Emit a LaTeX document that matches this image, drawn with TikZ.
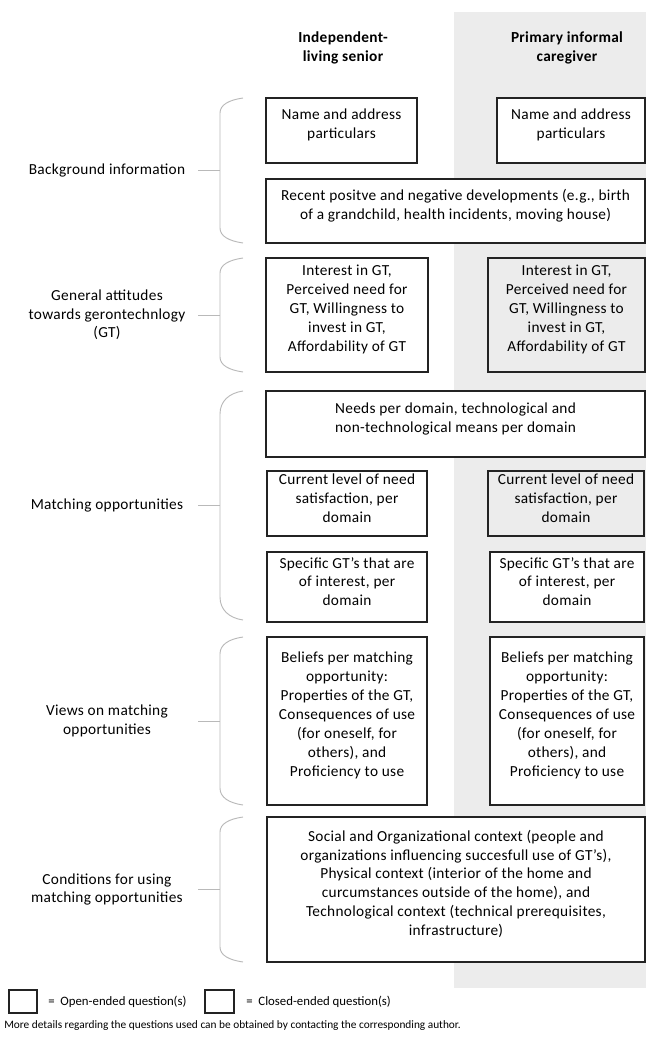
\documentclass[tikz,border=0pt]{standalone}
\usepackage{fontspec}
\setmainfont{Carlito}
\newfontfamily\boxfont{Carlito}[LetterSpace=2]
\usetikzlibrary{fit}
\definecolor{bgc}{RGB}{236,236,236}
\definecolor{brc}{RGB}{185,185,185}
\definecolor{bxc}{RGB}{35,35,35}
\tikzset{
  x=0.75pt, y=-0.75pt,
  box/.style={draw=bxc, line width=0.85pt, fill=white, inner sep=0pt, align=center,
    font=\boxfont\fontsize{11.5}{14.2}\selectfont},
  cbox/.style={box, fill=bgc},
  lbl/.style={align=center, font=\boxfont\fontsize{11.5}{14}\selectfont, inner sep=0pt},
  hdr/.style={align=center, font=\boxfont\fontsize{11.5}{14.2}\selectfont\bfseries, inner sep=0pt},
  bracestyle/.style={draw=brc, line width=0.7pt},
  legbox/.style={draw=bxc, line width=0.85pt, inner sep=0pt},
  legtxt/.style={font=\fontsize{9.6}{11}\selectfont, inner sep=0pt, anchor=west},
  small/.style={font=\fontsize{8.5}{10}\selectfont, inner sep=0pt, anchor=west}
}
\newcommand{\mybrace}[3]{% name, top, bottom
  \pgfmathsetmacro{\cc}{max(15,0.1*(#3-#2))}
  \pgfmathsetmacro{\mm}{(#2+#3)/2}
  \draw[bracestyle] (243,#2) .. controls (229,#2+2) and (220,#2+0.45*\cc) .. (220,#2+\cc)
     -- (220,#3-\cc) .. controls (220,#3-0.45*\cc) and (229,#3-2) .. (243,#3);
  \coordinate (#1m) at (220,\mm);
  \coordinate (#1t) at (198,\mm);
  \draw[bracestyle] (#1t) -- (#1m);
}
\begin{document}
\begin{tikzpicture}
\useasboundingbox (0,0) rectangle (646,1037);
\fill[bgc] (454,12) rectangle (646,988);

\node[hdr] (h1) at (343,47.5) {Independent-\\living senior};
\node[hdr] (h2) at (567,47.5) {Primary informal\\caregiver};

% Row 1
\node[box, fit={(266,98)(417,163)}] (n1) {Name and address\\particulars};
\node[box, fit={(497,98)(645,163)}] (n2) {Name and address\\particulars};
\node[box, fit={(266,179)(645,243)}] (rc) {Recent positve and negative developments (e.g., birth\\of a grandchild, health incidents, moving house)};
% Row 2
\node[box, fit={(266,258)(428,372)}] (i1) {Interest in GT,\\Perceived need for\\GT, Willingness to\\invest in GT,\\Affordability of GT};
\node[cbox, fit={(488,258)(645,372)}] (i2) {Interest in GT,\\Perceived need for\\GT, Willingness to\\invest in GT,\\Affordability of GT};
% Row 3
\node[box, fit={(266,391)(645,457)}] (nd) {Needs per domain, technological and\\non-technological means per domain};
\node[box, fit={(267,471)(427,536)}] (c1) {Current level of need\\satisfaction, per\\domain};
\node[cbox, fit={(488,471)(644,536)}] (c2) {Current level of need\\satisfaction, per\\domain};
\node[box, fit={(267,552)(427,622)}] (s1) {Specific GT’s that are\\of interest, per\\domain};
\node[box, fit={(490,552)(644,622)}] (s2) {Specific GT’s that are\\of interest, per\\domain};
% Row 4
\node[box, fit={(267,637)(427,805)}] (b1) {Beliefs per matching\\opportunity:\\Properties of the GT,\\Consequences of use\\(for oneself, for\\others), and\\Proficiency to use};
\node[box, fit={(490,637)(644,805)}] (b2) {Beliefs per matching\\opportunity:\\Properties of the GT,\\Consequences of use\\(for oneself, for\\others), and\\Proficiency to use};
% Row 5
\node[box, fit={(267,817)(645,962)}] (cd) {Social and Organizational context (people and\\organizations influencing succesfull use of GT’s),\\Physical context (interior of the home and\\curcumstances outside of the home), and\\Technological context (technical prerequisites,\\infrastructure)};

% Braces and labels
\mybrace{ba}{98}{243}
\mybrace{bb}{258}{372}
\mybrace{bc}{391}{620}
\mybrace{bd}{637}{805}
\mybrace{be}{817}{962}

\node[lbl] (l1) at (107,170.5) {Background information};
\node[lbl] (l2) at (107,315) {General attitudes\\towards gerontechnlogy\\(GT)};
\node[lbl] (l3) at (107,505.5) {Matching opportunities};
\node[lbl] (l4) at (107,721) {Views on matching\\opportunities};
\node[lbl] (l5) at (107,889.5) {Conditions for using\\matching opportunities};

% Legend
\node[legbox, fit={(9,990)(37,1013)}] (lg1) {};
\node[legtxt] (lt1) at (48,1001.5) {=\ \ Open-ended question(s)};
\node[legbox, fit={(205,990)(234,1013)}] (lg2) {};
\node[legtxt] (lt2) at (246,1001.5) {=\ \ Closed-ended question(s)};

\node[small] (ft) at (4,1026) {More details regarding the questions used can be obtained by contacting the corresponding author.};
\end{tikzpicture}
\end{document}
